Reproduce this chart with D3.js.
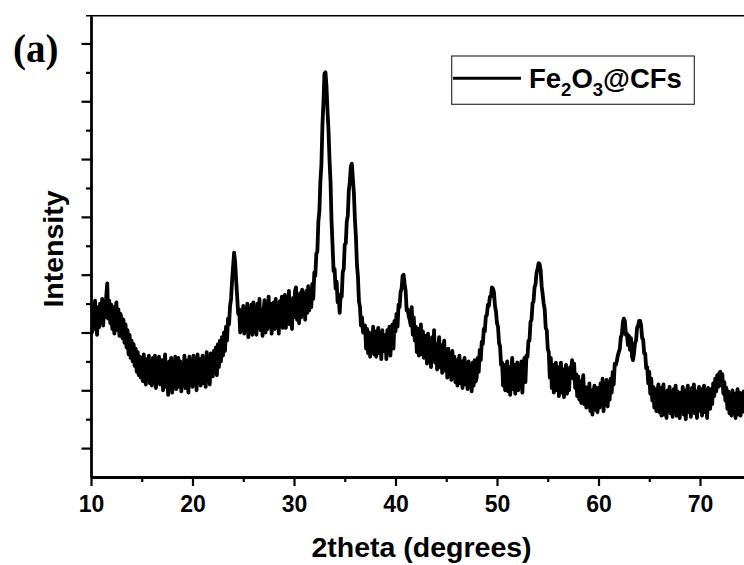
<!DOCTYPE html>
<html>
<head>
<meta charset="utf-8">
<script src="https://cdn.jsdelivr.net/npm/d3@7/dist/d3.min.js"></script>
<style>
  html, body { margin: 0; padding: 0; background: #fff; }
  svg { display: block; }
</style>
</head>
<body>
<svg id="chart" width="744" height="565"></svg>
<script>
// ---- data ----
const scanStart = 10.0;   // 2theta of first sample
const scanStep = 0.1;     // step of the scan

// intensity (a.u.), one row per degree
const intensity = [
  245, 200, 238, 206, 255, 214, 196, 244, 209, 250, // 10
  222, 258, 212, 252, 226, 262, 285, 224, 255, 216, // 11
  248, 206, 244, 198, 236, 252, 204, 240, 194, 232, // 12
  226, 190, 222, 182, 214, 174, 204, 162, 196, 156, // 13
  186, 150, 180, 142, 172, 132, 166, 126, 158, 122, // 14
  156, 116, 162, 122, 110, 154, 118, 160, 112, 148, // 15
  108, 156, 120, 160, 104, 150, 114, 158, 110, 144, // 16
  152, 100, 140, 162, 106, 136, 92, 150, 110, 156,  // 17
  96, 148, 112, 158, 102, 142, 156, 106, 150, 98,   // 18
  146, 110, 160, 104, 152, 116, 96, 158, 118, 150,  // 19
  106, 160, 114, 148, 100, 162, 118, 154, 108, 146, // 20
  160, 112, 152, 106, 166, 120, 156, 110, 164, 124, // 21
  124, 168, 132, 174, 126, 180, 140, 186, 150, 192, // 22
  160, 200, 168, 210, 186, 224, 214, 246, 258, 290, // 23
  314, 338, 322, 290, 262, 232, 240, 200, 238, 204, // 24
  246, 198, 240, 204, 250, 192, 236, 210, 248, 196, // 25
  252, 202, 242, 196, 250, 210, 258, 204, 240, 194, // 26
  236, 256, 200, 248, 206, 262, 214, 250, 198, 244, // 27
  252, 206, 258, 212, 246, 198, 254, 214, 262, 208, // 28
  242, 265, 208, 258, 216, 272, 214, 252, 206, 260, // 29
  226, 272, 278, 222, 262, 216, 268, 226, 274, 232, // 30
  266, 222, 272, 234, 280, 238, 272, 244, 284, 258, // 31
  304, 298, 336, 340, 392, 410, 462, 490, 558, 598, // 32
  648, 650, 626, 584, 550, 498, 460, 392, 350, 306, // 33
  310, 276, 288, 252, 262, 234, 266, 262, 304, 310, // 34
  352, 354, 392, 402, 446, 460, 488, 492, 466, 442, // 35
  396, 366, 318, 296, 254, 244, 212, 226, 200, 208, // 36
  212, 172, 206, 164, 200, 158, 196, 168, 210, 162, // 37
  202, 158, 194, 208, 164, 198, 154, 204, 168, 182, // 38
  196, 154, 204, 166, 210, 160, 200, 214, 172, 220, // 39
  202, 232, 210, 248, 244, 270, 276, 298, 300, 284, // 40
  272, 238, 240, 228, 222, 212, 244, 196, 226, 186, // 41
  210, 166, 206, 160, 198, 214, 162, 202, 156, 194, // 42
  188, 146, 198, 152, 184, 140, 192, 156, 204, 148, // 43
  180, 136, 174, 192, 140, 178, 130, 170, 186, 134, // 44
  166, 122, 172, 130, 160, 118, 168, 126, 158, 114, // 45
  152, 108, 148, 160, 112, 150, 104, 144, 156, 110, // 46
  146, 102, 150, 110, 142, 98, 148, 108, 152, 115,  // 47
  122, 156, 132, 170, 152, 184, 180, 206, 202, 228, // 48
  230, 248, 246, 262, 262, 278, 276, 270, 246, 236, // 49
  216, 210, 182, 176, 144, 148, 108, 144, 100, 136, // 50
  150, 98, 140, 92, 134, 156, 102, 144, 94, 138,    // 51
  148, 100, 142, 106, 150, 96, 138, 156, 114, 160,  // 52
  158, 186, 186, 218, 222, 250, 254, 278, 284, 304, // 53
  310, 320, 318, 308, 280, 266, 250, 240, 208, 204, // 54
  172, 166, 122, 156, 104, 144, 96, 136, 148, 100,  // 55
  140, 90, 132, 148, 96, 136, 88, 128, 144, 94,     // 56
  134, 100, 140, 134, 152, 120, 146, 104, 128, 90,  // 57
  124, 84, 116, 78, 110, 126, 76, 106, 70, 104,     // 58
  72, 112, 64, 100, 58, 96, 108, 66, 104, 62,       // 59
  104, 70, 112, 76, 120, 64, 106, 78, 118, 72,      // 60
  108, 84, 120, 96, 132, 110, 146, 144, 150, 160,   // 61
  166, 172, 192, 196, 218, 224, 220, 196, 198, 178, // 62
  194, 170, 190, 158, 152, 164, 182, 186, 208, 212, // 63
  220, 220, 212, 190, 188, 164, 164, 138, 140, 112, // 64
  132, 94, 120, 82, 106, 70, 102, 64, 96, 110,      // 65
  62, 104, 56, 96, 110, 58, 92, 52, 100, 68,        // 66
  106, 60, 94, 54, 102, 70, 108, 56, 98, 64,        // 67
  52, 96, 66, 106, 58, 100, 50, 92, 108, 62,        // 68
  96, 54, 104, 66, 110, 60, 98, 52, 94, 106,        // 69
  64, 102, 56, 98, 108, 62, 94, 52, 104, 72,        // 70
  68, 102, 76, 112, 90, 120, 98, 126, 106, 130,     // 71
  132, 108, 128, 94, 114, 82, 104, 68, 98, 60,      // 72
  92, 56, 100, 62, 94, 52, 88, 102, 58, 96,         // 73
  56, 94, 64, 98, 60                                // 74
];

const xTickValues = [10, 20, 30, 40, 50, 60, 70];
const xMinorTicks = [15, 25, 35, 45, 55, 65, 75];
const yMajorTicks = [0, 100, 200, 300, 400, 500, 600, 700];
const yMinorTicks = [50, 150, 250, 350, 450, 550, 650];
const seriesName = ["Fe", "2", "O", "3", "@CFs"];  // Fe2O3@CFs

// ---- layout ----
const plot = { left: 91, top: 15.7, bottom: 477, right: 801.5 };

const svg = d3.select("#chart");

const x = d3.scaleLinear().domain([10, 80]).range([plot.left, plot.right]);
const y = d3.scaleLinear().domain([-50, 748]).range([plot.bottom, plot.top]);

const points = intensity.map((v, i) => ({ t: scanStart + i * scanStep, v: v }));

// clip the trace to the frame
svg.append("defs").append("clipPath").attr("id", "plotClip")
  .append("rect")
  .attr("x", plot.left).attr("y", plot.top)
  .attr("width", plot.right - plot.left).attr("height", plot.bottom - plot.top);

const line = d3.line().x(d => x(d.t)).y(d => y(d.v));

svg.append("path")
  .datum(points)
  .attr("clip-path", "url(#plotClip)")
  .attr("fill", "none")
  .attr("stroke", "#000")
  .attr("stroke-width", 3.8)
  .attr("stroke-linejoin", "round")
  .attr("d", line);

// top frame line
svg.append("line")
  .attr("x1", 86).attr("x2", 744)
  .attr("y1", plot.top).attr("y2", plot.top)
  .attr("stroke", "#000").attr("stroke-width", 1.4);

// x axis
const xAxisG = svg.append("g")
  .attr("transform", `translate(0,${plot.bottom})`)
  .call(d3.axisBottom(x).tickValues(xTickValues).tickSize(9).tickSizeOuter(0).tickFormat(d3.format("d")));
xAxisG.select(".domain").attr("stroke-width", 2.8);
xAxisG.selectAll(".tick line").attr("stroke-width", 2.2);
xAxisG.selectAll(".tick text")
  .attr("y", 19)
  .attr("font-family", "Arial, 'Liberation Sans', sans-serif")
  .attr("font-weight", "bold")
  .attr("font-size", 23)
  .attr("fill", "#000");

const xMinorG = svg.append("g")
  .attr("transform", `translate(0,${plot.bottom})`)
  .call(d3.axisBottom(x).tickValues(xMinorTicks).tickSize(5).tickFormat(""));
xMinorG.select(".domain").remove();
xMinorG.selectAll(".tick line").attr("stroke-width", 2.2);

// y axis (no labels)
const yAxisG = svg.append("g")
  .attr("transform", `translate(${plot.left},0)`)
  .call(d3.axisLeft(y).tickValues(yMajorTicks).tickSize(9.5).tickSizeOuter(0).tickFormat(""));
yAxisG.select(".domain").attr("stroke-width", 2.8);
yAxisG.selectAll(".tick line").attr("stroke-width", 2.2);

const yMinorG = svg.append("g")
  .attr("transform", `translate(${plot.left},0)`)
  .call(d3.axisLeft(y).tickValues(yMinorTicks).tickSize(5).tickFormat(""));
yMinorG.select(".domain").remove();
yMinorG.selectAll(".tick line").attr("stroke-width", 2.2);

// axis titles
svg.append("text")
  .attr("x", 421.5).attr("y", 556.5)
  .attr("text-anchor", "middle")
  .attr("font-family", "Arial, 'Liberation Sans', sans-serif")
  .attr("font-weight", "bold")
  .attr("font-size", 28.5)
  .attr("fill", "#000")
  .text("2theta (degrees)");

svg.append("text")
  .attr("transform", "translate(63,249) rotate(-90)")
  .attr("text-anchor", "middle")
  .attr("font-family", "Arial, 'Liberation Sans', sans-serif")
  .attr("font-weight", "bold")
  .attr("font-size", 28.5)
  .attr("fill", "#000")
  .text("Intensity");

// panel label
svg.append("text")
  .attr("x", 13).attr("y", 61.5)
  .attr("font-family", "'Times New Roman', 'Liberation Serif', serif")
  .attr("font-weight", "bold")
  .attr("font-size", 39)
  .attr("fill", "#000")
  .text("(a)");

// legend
const legend = svg.append("g");
legend.append("rect")
  .attr("x", 451.7).attr("y", 56)
  .attr("width", 242.6).attr("height", 48.3)
  .attr("fill", "#fff")
  .attr("stroke", "#333").attr("stroke-width", 1.2);
legend.append("line")
  .attr("x1", 453).attr("x2", 521)
  .attr("y1", 78.3).attr("y2", 78.3)
  .attr("stroke", "#000").attr("stroke-width", 3);

const legendText = legend.append("text")
  .attr("x", 529).attr("y", 88.3)
  .attr("font-family", "Arial, 'Liberation Sans', sans-serif")
  .attr("font-weight", "bold")
  .attr("font-size", 27.5)
  .attr("fill", "#000");
seriesName.forEach((part, i) => {
  const isSub = i === 1 || i === 3;
  legendText.append("tspan")
    .attr("font-size", isSub ? 18.5 : 27.5)
    .attr("dy", isSub ? 7.5 : (i === 0 ? 0 : -7.5))
    .text(part);
});
</script>
</body>
</html>
